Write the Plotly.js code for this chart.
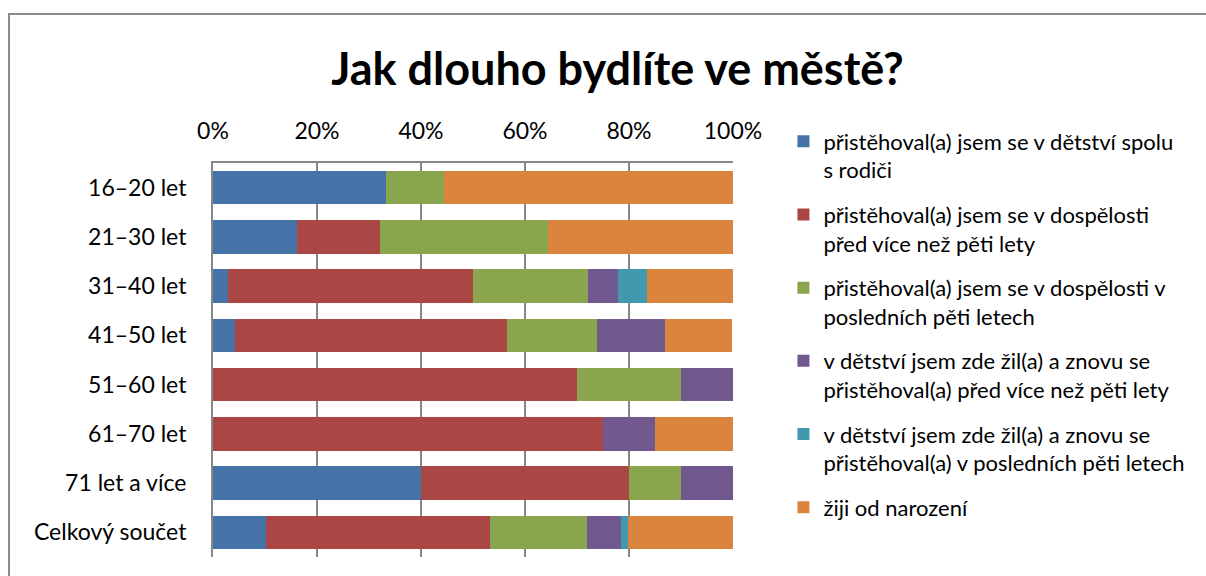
<!DOCTYPE html>
<html>
<head>
<meta charset="utf-8">
<script src="https://cdn.plot.ly/plotly-3.0.1.min.js"></script>
<style>
html,body{margin:0;padding:0;background:#fff;}
#wrap{position:relative;width:1206px;height:576px;overflow:hidden;}
#frame{position:absolute;left:8px;top:13px;width:1300px;height:700px;border:2px solid #8c8c8c;box-sizing:border-box;pointer-events:none;z-index:5;}
#chart{position:absolute;left:0;top:0;width:1206px;height:576px;}
</style>
</head>
<body>
<div id="wrap"><div id="chart"></div><div id="frame"></div></div>
<script>
const categories = ["16–20 let","21–30 let","31–40 let","41–50 let","51–60 let","61–70 let","71 let a více","Celkový součet"];
const seriesNames = [
  "přistěhoval(a) jsem se v dětství spolu<br>s rodiči",
  "přistěhoval(a) jsem se v dospělosti<br>před více než pěti lety",
  "přistěhoval(a) jsem se v dospělosti v<br>posledních pěti letech",
  "v dětství jsem zde žil(a) a znovu se<br>přistěhoval(a) před více než pěti lety",
  "v dětství jsem zde žil(a) a znovu se<br>přistěhoval(a) v posledních pěti letech",
  "žiji od narození"
];
const movedChildhood   = [33.3, 16.1,  2.8,  4.3,  0.0,  0.0, 40.0, 10.1];
const movedAdultOld    = [ 0.0, 16.1, 47.2, 52.2, 70.0, 75.0, 40.0, 43.2];
const movedAdultRecent = [11.1, 32.3, 22.2, 17.4, 20.0,  0.0, 10.0, 18.7];
const returnedOld      = [ 0.0,  0.0,  5.6, 13.0, 10.0, 10.0, 10.0,  6.5];
const returnedRecent   = [ 0.0,  0.0,  5.6,  0.0,  0.0,  0.0,  0.0,  1.4];
const sinceBirth       = [55.6, 35.5, 16.7, 13.0,  0.0, 15.0,  0.0, 20.1];
const xTickVals = [0,20,40,60,80,100];
const xTickText = ["0%","20%","40%","60%","80%","100%"];

const colors = ["#4572A7","#AA4643","#89A54E","#71588F","#4198AF","#DB843D"];
const seriesValues = [movedChildhood, movedAdultOld, movedAdultRecent, returnedOld, returnedRecent, sinceBirth];
const font = "Lato, 'Noto Sans', sans-serif";

const traces = seriesValues.map((vals,i)=>({
  type:"bar", orientation:"h",
  x: vals, y: categories,
  name: seriesNames[i],
  legendgroup: "g"+i,
  marker:{color:colors[i], line:{width:0}},
  hoverinfo:"x+y+name"
}));

const layout = {
  width:1206, height:576,
  margin:{l:213, r:473, t:163, b:19},
  paper_bgcolor:"#fff", plot_bgcolor:"#fff",
  barmode:"stack", bargap:0.32,
  title:{text:"<b>Jak dlouho bydlíte ve městě?</b>", font:{family:font, size:45, color:"#000"}, x:0.512, xanchor:"center", y:0.88, yanchor:"middle"},
  font:{family:font, color:"#000"},
  xaxis:{
    side:"top", range:[0,100], tickvals:xTickVals, ticktext:xTickText,
    showgrid:true, gridcolor:"#878787", gridwidth:2,
    showline:true, linecolor:"#878787", linewidth:2, mirror:false,
    ticks:"outside", ticklen:13, tickcolor:"rgba(0,0,0,0)",
    tickfont:{family:font, size:23, color:"#000"}, zeroline:false, fixedrange:true
  },
  yaxis:{
    autorange:"reversed", type:"category",
    showline:true, linecolor:"#878787", linewidth:2,
    ticks:"outside", ticklen:20, tickcolor:"rgba(0,0,0,0)",
    tickfont:{family:font, size:23, color:"#000"}, showgrid:false, fixedrange:true
  },
  legend:{
    x:1.097, xanchor:"left", y:1.108, yanchor:"top",
    traceorder:"grouped", tracegroupgap:13, maxheight:1, valign:"top",
    font:{family:font, size:22, color:"#000"},
    itemwidth:30, bgcolor:"rgba(0,0,0,0)"
  },
  showlegend:true
};
Plotly.newPlot("chart", traces, layout, {displayModeBar:false, staticPlot:true});
</script>
</body>
</html>
